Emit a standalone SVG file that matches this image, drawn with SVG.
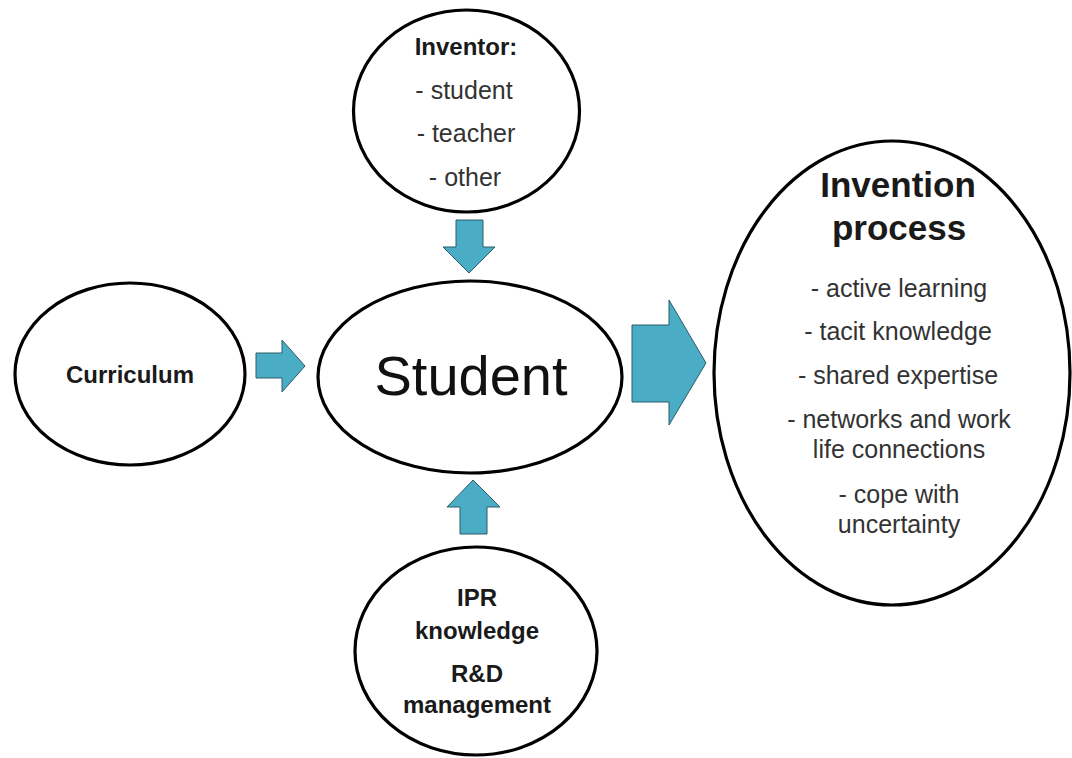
<svg xmlns="http://www.w3.org/2000/svg" width="1072" height="758" viewBox="0 0 1072 758">
  <style>
    .node { fill: #ffffff; stroke: #000000; stroke-width: 3.2; }
    .arrow { fill: #4bacc6; stroke: #2a5d6b; stroke-width: 1; stroke-linejoin: miter; }
    .b { font-family: "Liberation Sans", Arial, sans-serif; font-weight: bold; font-size: 24px; fill: #1a1a1a; text-anchor: middle; }
    .big { font-size: 35px; }
    .r { font-family: "Liberation Sans", Arial, sans-serif; font-size: 25px; fill: #333333; text-anchor: middle; }
  </style>
  <rect width="1072" height="758" fill="#ffffff"/>

  <g id="connectors">
    <polygon class="arrow" points="456,220 483,220 483,247 495,247 469,273 443,247 456,247"/>
    <polygon class="arrow" points="473,480 500,507 487,507 487,534 460,534 460,507 447,507"/>
    <polygon class="arrow" points="256,353 282,353 282,340 305,366 282,392 282,378 256,378"/>
    <polygon class="arrow" points="632,325 669,325 669,300 706,363 669,425 669,402 632,402"/>
  </g>

  <g id="inventor">
    <ellipse class="node" cx="466.5" cy="111" rx="113" ry="101"/>
    <text class="b" x="466" y="55">Inventor:</text>
    <text class="r" x="464" y="99">- student</text>
    <text class="r" x="466" y="142">- teacher</text>
    <text class="r" x="465" y="186">- other</text>
  </g>

  <g id="curriculum">
    <ellipse class="node" cx="130" cy="374" rx="115" ry="91"/>
    <text class="b" x="130" y="383">Curriculum</text>
  </g>

  <g id="student">
    <ellipse class="node" cx="470" cy="377" rx="152" ry="96"/>
    <text x="471" y="395" font-family="Liberation Sans, Arial, sans-serif" font-size="56" fill="#111111" text-anchor="middle">Student</text>
  </g>

  <g id="ipr">
    <ellipse class="node" cx="476" cy="651" rx="121" ry="104"/>
    <text class="b" x="477" y="606">IPR</text>
    <text class="b" x="477" y="639">knowledge</text>
    <text class="b" x="477" y="682">R&amp;D</text>
    <text class="b" x="477" y="713">management</text>
  </g>

  <g id="invention-process">
    <ellipse class="node" cx="892" cy="373" rx="178" ry="232"/>
    <text class="b big" x="898" y="197">Invention</text>
    <text class="b big" x="899" y="240">process</text>
    <text class="r" x="899" y="297">- active learning</text>
    <text class="r" x="898" y="340">- tacit knowledge</text>
    <text class="r" x="898" y="384">- shared expertise</text>
    <text class="r" x="899" y="428">- networks and work</text>
    <text class="r" x="899" y="458">life connections</text>
    <text class="r" x="899" y="503">- cope with</text>
    <text class="r" x="899" y="533">uncertainty</text>
  </g>
</svg>
